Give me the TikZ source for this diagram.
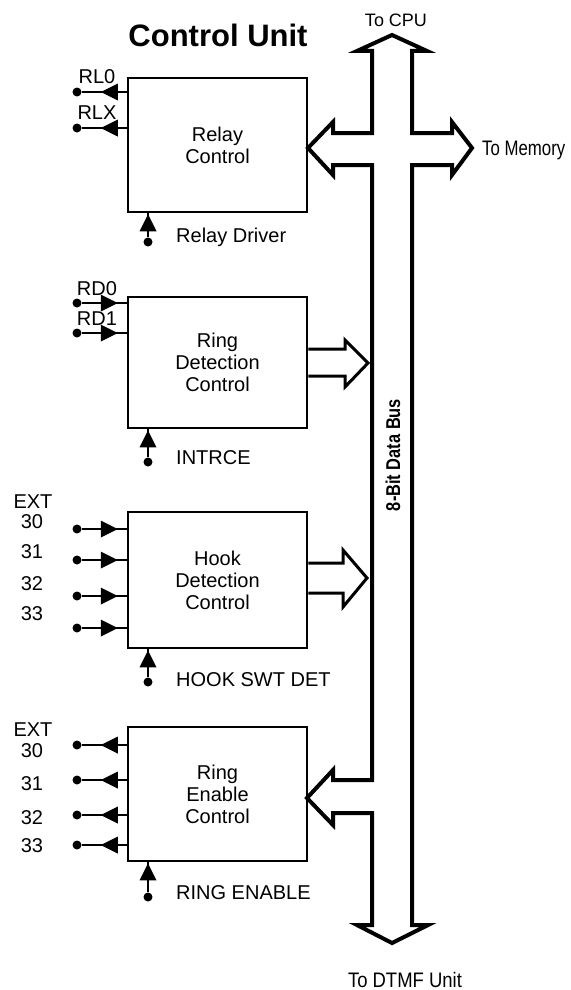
\documentclass[tikz,border=0pt]{standalone}
\usepackage{fontspec}
\setmainfont{Liberation Sans}
\newfontfamily\narrowfont[FakeStretch=0.88]{Liberation Sans}
\newfontfamily\memfont[FakeStretch=0.8]{Liberation Sans}
\newfontfamily\busfont[FakeStretch=0.82]{Liberation Sans}
\usetikzlibrary{calc}
\begin{document}
\begin{tikzpicture}[x=1pt,y=-1pt,
  blk/.style={draw, line width=2.5pt, minimum width=179pt, align=center,
    font=\fontsize{20}{22}\selectfont, inner sep=0pt},
  dotn/.style={circle, fill, inner sep=0pt, minimum size=9pt},
  lbl/.style={font=\fontsize{20}{20}\selectfont, inner sep=0pt, text height=14.3pt, text depth=0pt},
  sig/.style={font=\fontsize{20}{20}\selectfont, inner sep=0pt, anchor=west},
  wire/.style={line width=2pt},
  tri/.pic={\fill (0,0) -- (-17,8.5) -- (-17,-8.5) -- cycle;},
  fat/.style={line width=3pt, line join=miter},
  bus/.style={line width=4pt, line join=miter}]
\useasboundingbox (0,0) rectangle (570,990);

% title
\node[font=\fontsize{31}{31}\selectfont\bfseries, inner sep=0pt] (title) at (218,35) {Control Unit};

% boxes
\node[blk, minimum height=134pt] (relay) at (217.5,145) {Relay\\Control};
\node[blk, minimum height=131pt] (rdc) at (217.5,362.5) {Ring\\Detection\\Control};
\node[blk, minimum height=136pt] (hdc) at (217.5,580) {Hook\\Detection\\Control};
\node[blk, minimum height=134pt] (rec) at (217.5,794) {Ring\\Enable\\Control};

% bus
\draw[bus] (392,35) -- (427,51) -- (412,51) -- (412,133) -- (452,133) -- (452,122)
  -- (472,148) -- (452,175) -- (452,165) -- (412,165) -- (412,925) -- (428,925)
  -- (392,943) -- (357,925) -- (372,925) -- (372,813) -- (333,813) -- (333,825)
  -- (307,798) -- (333,770) -- (333,780) -- (372,780) -- (372,165) -- (333,165)
  -- (333,175) -- (308,148) -- (333,122) -- (333,133) -- (372,133) -- (372,51)
  -- (357,51) -- cycle;
\node[rotate=90, font=\fontsize{20}{20}\busfont\bfseries, inner sep=0pt] (buslbl) at (393,455) {8-Bit Data Bus};
\node[font=\fontsize{18}{18}\selectfont, inner sep=0pt] (cpu) at (396,20) {To CPU};
\node[font=\fontsize{21}{21}\memfont, inner sep=0pt, anchor=west] (mem) at (482,150) {To Memory};
\node[font=\fontsize{21}{21}\narrowfont, inner sep=0pt, text height=15pt, text depth=0pt] (dtmf) at (405,980) {To DTMF Unit};

% fat arrows to bus
\draw[fat] (rdc.east |- 0,349) -- (345,349) -- (345,340) -- (368,363) -- (345,387) -- (345,376) -- (rdc.east |- 0,376);
\draw[fat] (hdc.east |- 0,563) -- (343,563) -- (343,550) -- (367,578) -- (343,607) -- (343,593) -- (hdc.east |- 0,593);

% relay outputs
\foreach \y/\n/\t in {92/a/RL0,128/b/RLX}{
  \node[dotn] (rl\n) at (77,\y) {};
  \node[lbl] (rlt\n) at (97,\y-16) {\t};
  \draw[wire] (rl\n) -- (relay.west |- rl\n);
  \pic[rotate=180] at ($(relay.west |- rl\n)+(-26,0)$) {tri};
}
% ring detection inputs
\foreach \y/\n/\t in {303/a/RD0,333/b/RD1}{
  \node[dotn] (rd\n) at (77,\y) {};
  \node[lbl] (rdt\n) at (97,\y-15) {\t};
  \draw[wire] (rd\n) -- (rdc.west |- rd\n);
  \pic at ($(rdc.west |- rd\n)+(-9,0)$) {tri};
}
% hook inputs
\node[lbl] (hext) at (33,501) {EXT};
\foreach \y/\ly/\n in {529/521/30,560/551/31,596/583/32,628/613/33}{
  \node[dotn] (hd\n) at (77,\y) {};
  \node[lbl] (hdt\n) at (32,\ly) {\n};
  \draw[wire] (hd\n) -- (hdc.west |- hd\n);
  \pic at ($(hdc.west |- hd\n)+(-9,0)$) {tri};
}
% ring enable outputs
\node[lbl] (rext) at (33,729) {EXT};
\foreach \y/\ly/\n in {745/750/30,780/783/31,815/817/32,845/845/33}{
  \node[dotn] (re\n) at (77,\y) {};
  \node[lbl] (ret\n) at (32,\ly) {\n};
  \draw[wire] (re\n) -- (rec.west |- re\n);
  \pic[rotate=180] at ($(rec.west |- re\n)+(-26,0)$) {tri};
}

% bottom inputs
\foreach \b/\y/\ty/\t in {relay/242/237/Relay Driver, rdc/462/458/INTRCE, hdc/682/680/HOOK SWT DET, rec/897/893/RING ENABLE}{
  \node[dotn] (d\b) at (148,\y) {};
  \node[sig] (s\b) at (176,\ty) {\t};
  \draw[wire] (d\b) -- (\b.south -| d\b);
  \pic[rotate=90] at ($(\b.south -| d\b)+(0,1)$) {tri};
}
\end{tikzpicture}
\end{document}
